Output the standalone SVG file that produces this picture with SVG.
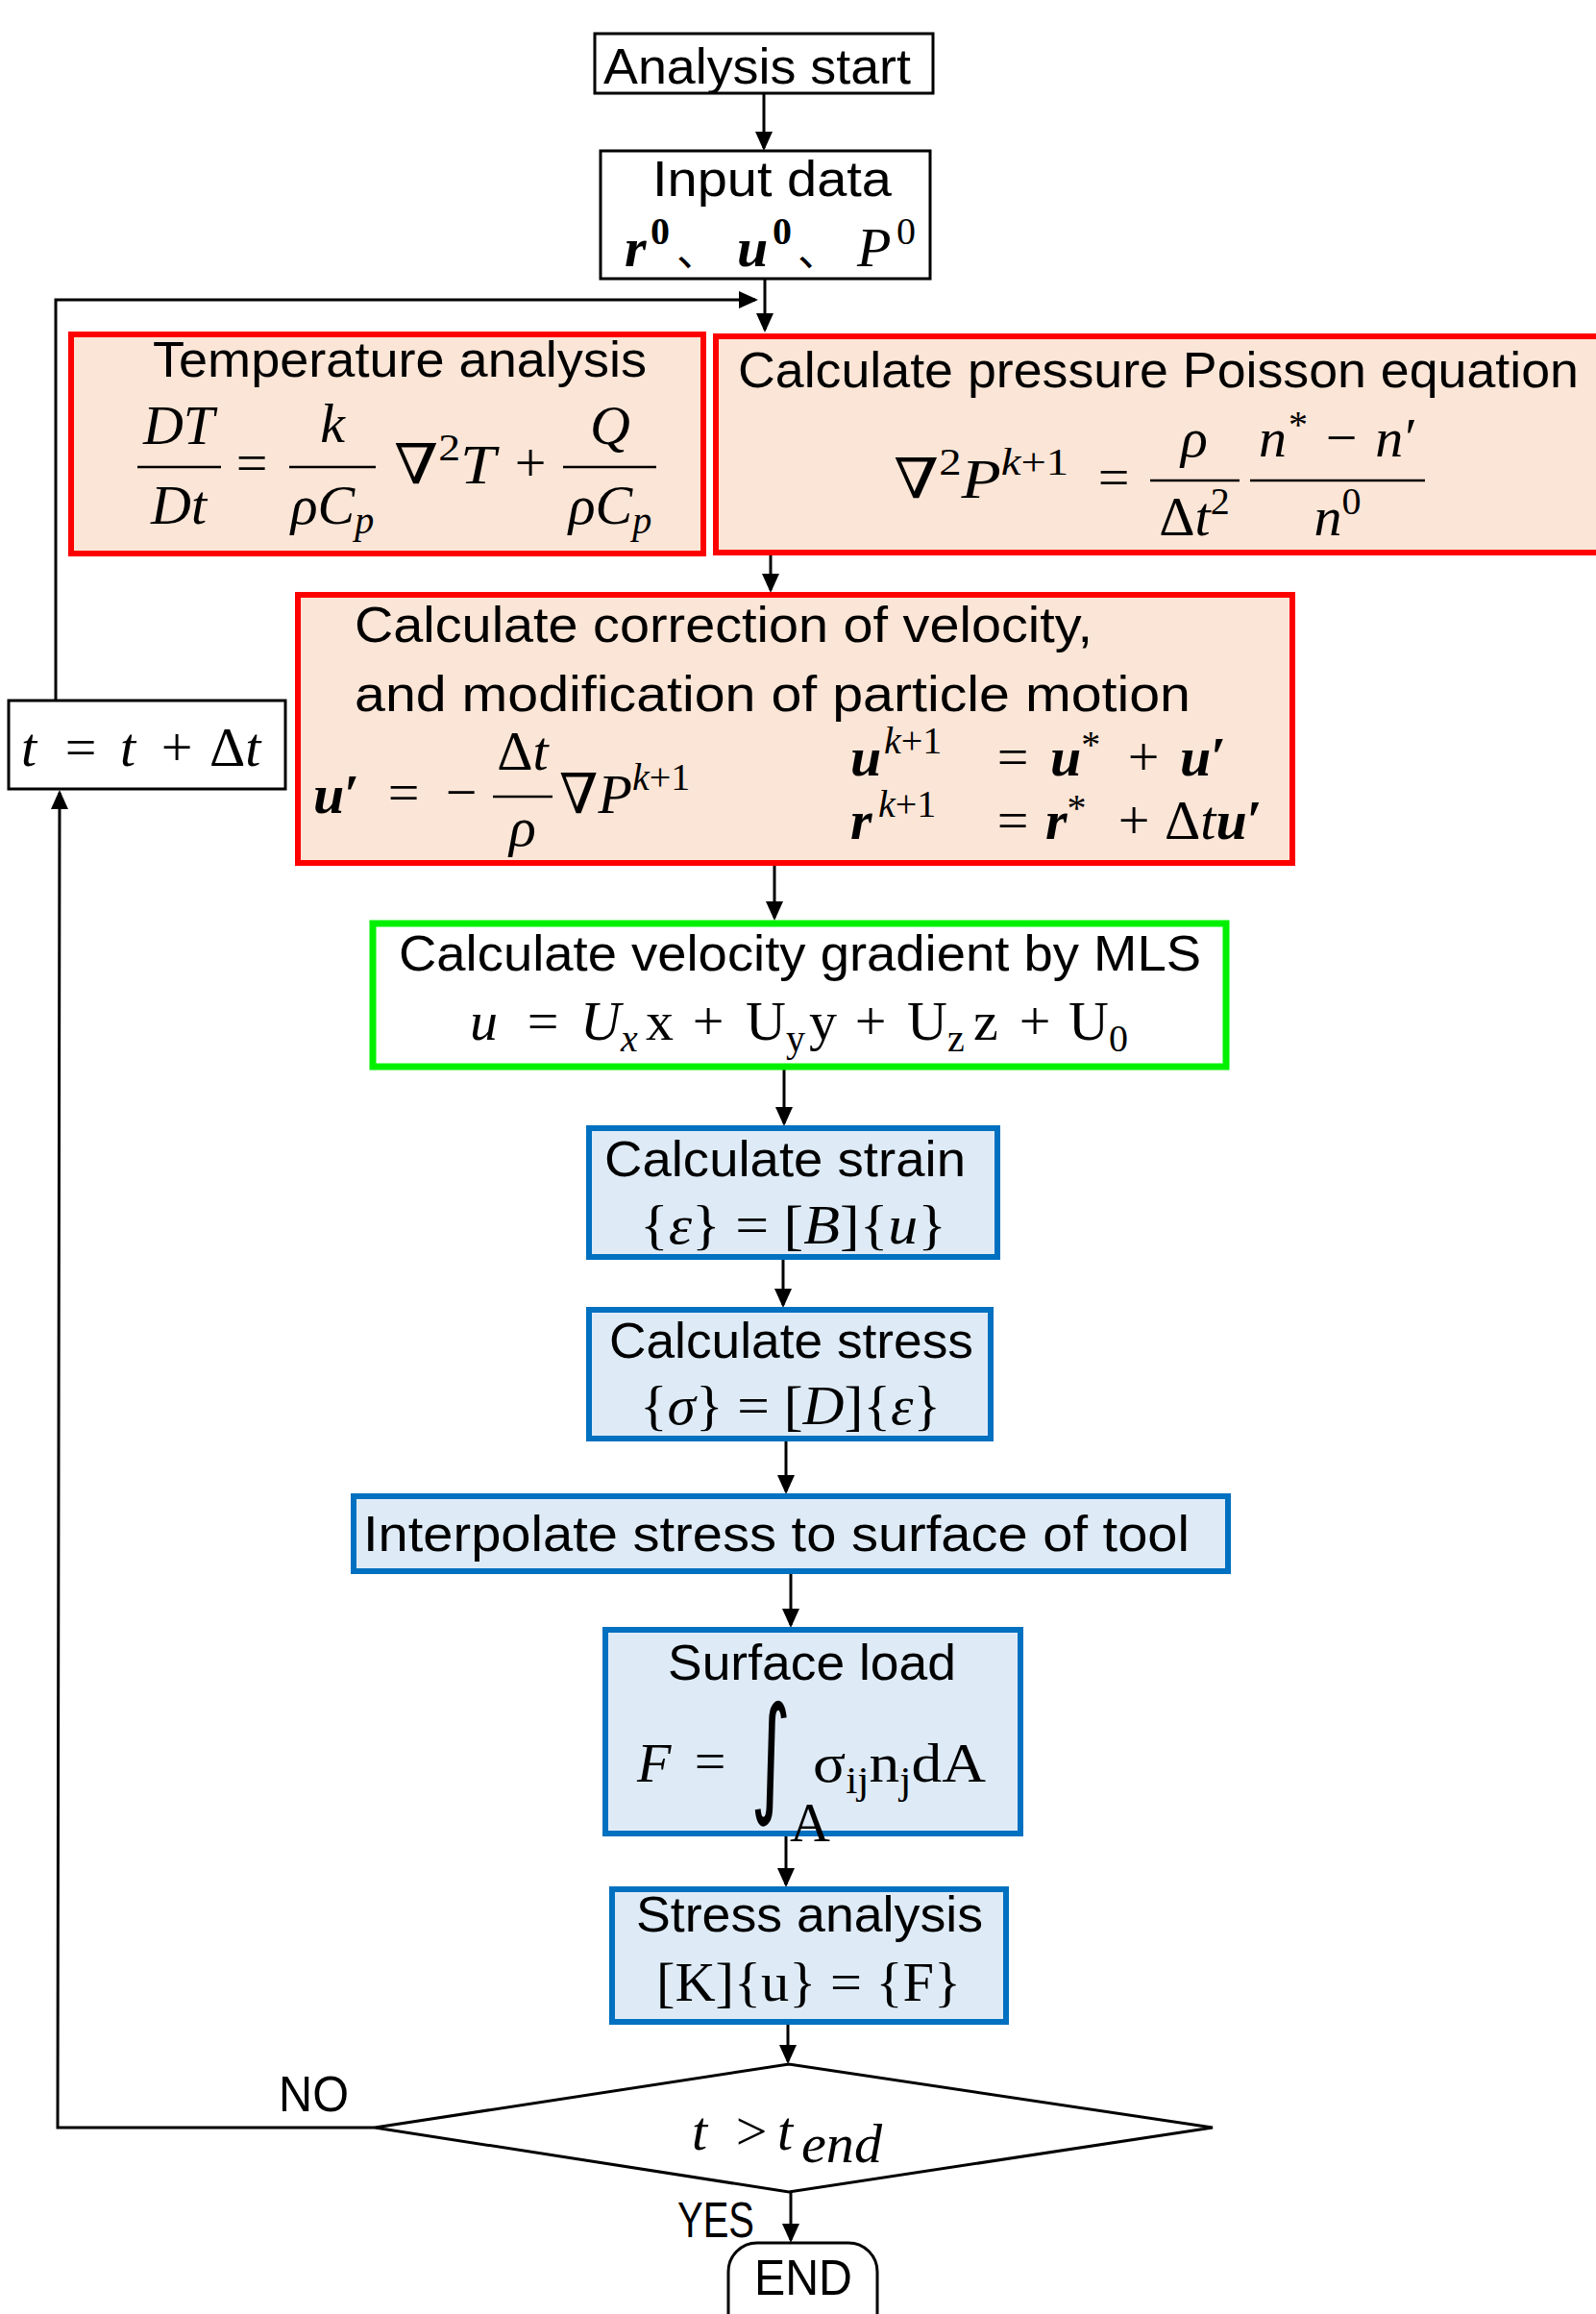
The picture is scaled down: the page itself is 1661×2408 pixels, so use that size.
<svg xmlns="http://www.w3.org/2000/svg" width="1661" height="2408" viewBox="0 0 1661 2408">
<defs>
<style>
.bk{fill:#fff;stroke:#000;stroke-width:3}
.rd{fill:#FBE5D6;stroke:#FF0000;stroke-width:6}
.gr{fill:#fff;stroke:#00F000;stroke-width:7}
.bl{fill:#DEEBF7;stroke:#0070C0;stroke-width:6}
.t{font-family:"Liberation Sans",Arial,sans-serif;font-size:52px;fill:#000}
.m{font-family:"Liberation Serif","Times New Roman","DejaVu Serif","Noto Sans CJK JP",serif;font-size:58px;font-style:italic;fill:#000}
.up{font-style:normal}
.bd{font-weight:bold}
.fl{stroke:#000;stroke-width:2.5}
.c{stroke:#000;stroke-width:3;fill:none;marker-end:url(#ah)}
.mid{text-anchor:middle}
.int{font-family:"DejaVu Sans",sans-serif;font-size:135px;fill:#000}
</style>
<marker id="ah" markerUnits="userSpaceOnUse" markerWidth="20" markerHeight="20" viewBox="0 0 20 20" refX="17" refY="10" orient="auto">
<path d="M0,1 L20,10 L0,19 z" fill="#000"/>
</marker>
</defs>
<rect width="1661" height="2408" fill="#fff"/>

<g id="connectors">
<line class="c" x1="795" y1="98" x2="795" y2="154"/>
<line class="c" x1="796" y1="290" x2="796" y2="343"/>
<polyline class="c" points="58,729 58,312 786,312"/>
<line class="c" x1="802" y1="577" x2="802" y2="614"/>
<line class="c" x1="806" y1="900" x2="806" y2="955"/>
<line class="c" x1="816" y1="1112" x2="816" y2="1169"/>
<line class="c" x1="815" y1="1308" x2="815" y2="1358"/>
<line class="c" x1="818" y1="1498" x2="818" y2="1552"/>
<line class="c" x1="823" y1="1636" x2="823" y2="1691"/>
<line class="c" x1="818" y1="1909" x2="818" y2="1961"/>
<line class="c" x1="820" y1="2104" x2="820" y2="2145"/>
<line class="c" x1="823" y1="2281" x2="823" y2="2331"/>
<polyline class="c" points="390,2214 60,2214 62,825"/>
</g>

<g id="start">
<rect class="bk" x="619" y="35" width="352" height="62"/>
<text class="t" x="628" y="87" textLength="320" lengthAdjust="spacingAndGlyphs">Analysis start</text>
</g>

<g id="input">
<rect class="bk" x="625" y="157" width="343" height="133"/>
<text class="t" x="679" y="204" textLength="249" lengthAdjust="spacingAndGlyphs">Input data</text>
<text class="m" font-size="60"><tspan class="bd" x="650" y="277">r</tspan><tspan class="up bd" x="677" y="254" font-size="40">0</tspan><tspan class="up" x="704" y="277" font-size="44">、</tspan><tspan class="bd" x="767" y="277">u</tspan><tspan class="up bd" x="804" y="254" font-size="40">0</tspan><tspan class="up" x="830" y="277" font-size="44">、</tspan><tspan x="892" y="277">P</tspan><tspan class="up" x="933" y="254" font-size="40">0</tspan></text>
</g>

<g id="temperature">
<rect class="rd" x="74" y="348" width="658" height="228"/>
<text class="t" x="159" y="392" textLength="514" lengthAdjust="spacingAndGlyphs">Temperature analysis</text>
<text class="m mid" x="186" y="462">DT</text>
<line class="fl" x1="143" y1="486" x2="230" y2="486"/>
<text class="m mid" x="186" y="545">Dt</text>
<text class="m up mid" x="262" y="501">=</text>
<text class="m mid" x="346" y="460">k</text>
<line class="fl" x1="301" y1="486" x2="391" y2="486"/>
<text class="m mid" x="346" y="545">ρC<tspan font-size="40" dy="10">p</tspan></text>
<text class="m" x="410" y="503" textLength="106" lengthAdjust="spacingAndGlyphs"><tspan class="up">∇</tspan><tspan class="up" font-size="40" dy="-24">2</tspan><tspan dy="24">T</tspan></text>
<text class="m up mid" x="552" y="501">+</text>
<text class="m mid" x="635" y="462">Q</text>
<line class="fl" x1="586" y1="486" x2="683" y2="486"/>
<text class="m mid" x="635" y="545">ρC<tspan font-size="40" dy="10">p</tspan></text>
</g>

<g id="pressure">
<rect class="rd" x="745" y="350" width="960" height="225"/>
<text class="t" x="768" y="403" textLength="875" lengthAdjust="spacingAndGlyphs">Calculate pressure Poisson equation</text>
<text class="m" x="930" y="518" textLength="182" lengthAdjust="spacingAndGlyphs"><tspan class="up">∇</tspan><tspan class="up" font-size="40" dy="-24">2</tspan><tspan dy="24">P</tspan><tspan font-size="40" dy="-24">k</tspan><tspan class="up" font-size="40">+1</tspan></text>
<text class="m up mid" x="1159" y="516">=</text>
<text class="m mid" x="1243" y="475">ρ</text>
<line class="fl" x1="1197" y1="500" x2="1290" y2="500"/>
<text class="m mid" x="1243" y="557"><tspan class="up">Δ</tspan>t<tspan class="up" font-size="40" dy="-22">2</tspan></text>
<text class="m" x="1310" y="475" textLength="165" lengthAdjust="spacing">n<tspan class="up" font-size="40" dy="-20">*</tspan><tspan class="up" dy="20"> − </tspan>n<tspan class="up">′</tspan></text>
<line class="fl" x1="1301" y1="500" x2="1483" y2="500"/>
<text class="m mid" x="1392" y="557">n<tspan class="up" font-size="40" dy="-22">0</tspan></text>
</g>

<g id="tupdate">
<rect class="bk" x="9" y="729" width="288" height="92"/>
<text class="m" font-size="64" x="22" y="797">t</text>
<text class="m up mid" font-size="64" x="84" y="797">=</text>
<text class="m" font-size="64" x="125" y="797">t</text>
<text class="m up mid" font-size="64" x="184" y="797">+</text>
<text class="m" font-size="64" x="218" y="797"><tspan class="up">Δ</tspan>t</text>
</g>

<g id="correction">
<rect class="rd" x="310" y="619" width="1035" height="279"/>
<text class="t" x="369" y="668" textLength="768" lengthAdjust="spacingAndGlyphs">Calculate correction of velocity,</text>
<text class="t" x="369" y="740" textLength="870" lengthAdjust="spacingAndGlyphs">and modification of particle motion</text>
<text class="m bd" font-size="56" x="326" y="846">u<tspan class="up">′</tspan></text>
<text class="m up mid" font-size="56" x="420" y="844">=</text>
<text class="m up mid" font-size="56" x="480" y="844">−</text>
<text class="m mid" font-size="56" x="544" y="801"><tspan class="up">Δ</tspan>t</text>
<line class="fl" x1="513" y1="829" x2="575" y2="829"/>
<text class="m mid" font-size="56" x="544" y="880">ρ</text>
<text class="m" font-size="56" x="582" y="846"><tspan class="up">∇</tspan>P<tspan font-size="40" dy="-24">k</tspan><tspan class="up" font-size="40">+1</tspan></text>
<text class="m" font-size="58" x="885" y="807"><tspan class="bd">u</tspan><tspan font-size="40" x="920" y="784">k</tspan><tspan class="up" font-size="40">+1</tspan></text>
<text class="m up mid" font-size="58" x="1054" y="807">=</text>
<text class="m" font-size="58" x="1093" y="807"><tspan class="bd">u</tspan><tspan class="up" font-size="40" y="788">*</tspan></text>
<text class="m up mid" font-size="58" x="1190" y="807">+</text>
<text class="m bd" font-size="58" x="1228" y="807">u<tspan class="up">′</tspan></text>
<text class="m" font-size="58" x="885" y="873"><tspan class="bd">r</tspan><tspan font-size="40" x="914" y="850">k</tspan><tspan class="up" font-size="40">+1</tspan></text>
<text class="m up mid" font-size="58" x="1054" y="873">=</text>
<text class="m" font-size="58" x="1088" y="873"><tspan class="bd">r</tspan><tspan class="up" font-size="40" y="854">*</tspan></text>
<text class="m up mid" font-size="58" x="1180" y="873">+</text>
<text class="m" font-size="58" x="1212" y="873"><tspan class="up">Δ</tspan>t<tspan class="bd">u</tspan><tspan class="up bd">′</tspan></text>
</g>

<g id="mls">
<rect class="gr" x="388" y="961" width="888" height="149"/>
<text class="t" x="415" y="1010" textLength="835" lengthAdjust="spacingAndGlyphs">Calculate velocity gradient by MLS</text>
<text class="m" x="489" y="1082">u</text>
<text class="m up mid" x="565" y="1082">=</text>
<text class="m" x="604" y="1082">U<tspan font-size="40" dy="12">x</tspan></text>
<text class="m up" x="672" y="1082">x</text>
<text class="m up mid" x="737" y="1082">+</text>
<text class="m up" x="776" y="1082">U<tspan font-size="40" dy="12">y</tspan></text>
<text class="m up" x="842" y="1082">y</text>
<text class="m up mid" x="906" y="1082">+</text>
<text class="m up" x="944" y="1082">U<tspan font-size="40" dy="12">z</tspan></text>
<text class="m up" x="1013" y="1082">z</text>
<text class="m up mid" x="1077" y="1082">+</text>
<text class="m up" x="1112" y="1082">U<tspan font-size="40" dy="12">0</tspan></text>
</g>

<g id="strain">
<rect class="bl" x="613" y="1174" width="425" height="134"/>
<text class="t" x="629" y="1224" textLength="376" lengthAdjust="spacingAndGlyphs">Calculate strain</text>
<text class="m up" font-size="60" x="666" y="1294" textLength="319" lengthAdjust="spacingAndGlyphs">{<tspan class="m" font-size="60">ε</tspan>} = [<tspan class="m" font-size="60">B</tspan>]{<tspan class="m" font-size="60">u</tspan>}</text>
</g>

<g id="stress">
<rect class="bl" x="613" y="1363" width="418" height="134"/>
<text class="t" x="634" y="1413" textLength="379" lengthAdjust="spacingAndGlyphs">Calculate stress</text>
<text class="m up" font-size="60" x="666" y="1482" textLength="313" lengthAdjust="spacingAndGlyphs">{<tspan class="m" font-size="60">σ</tspan>} = [<tspan class="m" font-size="60">D</tspan>]{<tspan class="m" font-size="60">ε</tspan>}</text>
</g>

<g id="interpolate">
<rect class="bl" x="368" y="1557" width="910" height="78"/>
<text class="t" x="378" y="1614" textLength="860" lengthAdjust="spacingAndGlyphs">Interpolate stress to surface of tool</text>
</g>

<g id="surface">
<rect class="bl" x="630" y="1696" width="432" height="212"/>
<text class="t" x="695" y="1748" textLength="300" lengthAdjust="spacingAndGlyphs">Surface load</text>
<text class="m" x="663" y="1854">F</text>
<text class="m up mid" x="739" y="1852">=</text>
<text class="int mid" transform="translate(802,1872) scale(0.6,1)">∫</text>
<text class="m up mid" font-size="40" x="843" y="1916">A</text>
<text class="m up" font-size="60" x="846" y="1854" textLength="180" lengthAdjust="spacingAndGlyphs">σ<tspan font-size="40" dy="12">ij</tspan><tspan dy="-12">n</tspan><tspan font-size="40" dy="12">j</tspan><tspan dy="-12">dA</tspan></text>
</g>

<g id="stressanalysis">
<rect class="bl" x="637" y="1966" width="410" height="138"/>
<text class="t" x="662" y="2010" textLength="361" lengthAdjust="spacingAndGlyphs">Stress analysis</text>
<text class="m up" font-size="57" x="683" y="2082" textLength="317" lengthAdjust="spacingAndGlyphs">[K]{u} = {F}</text>
</g>

<g id="decision">
<polygon class="bk" points="390,2214 821,2148 1262,2214 821,2281"/>
<text class="m" font-size="60" x="720" y="2237">t</text>
<text class="m up mid" font-size="60" x="782" y="2237">&gt;</text>
<text class="m" font-size="60" x="809" y="2237">t</text>
<text class="m" font-size="50" x="834" y="2250" textLength="84" lengthAdjust="spacingAndGlyphs">end</text>
<text class="t" x="290" y="2197" textLength="73" lengthAdjust="spacingAndGlyphs">NO</text>
<text class="t" x="705" y="2328" textLength="80" lengthAdjust="spacingAndGlyphs">YES</text>
</g>

<g id="end">
<rect class="bk" x="758" y="2334" width="155" height="110" rx="30"/>
<text class="t" x="785" y="2388" textLength="102" lengthAdjust="spacingAndGlyphs">END</text>
</g>
</svg>
